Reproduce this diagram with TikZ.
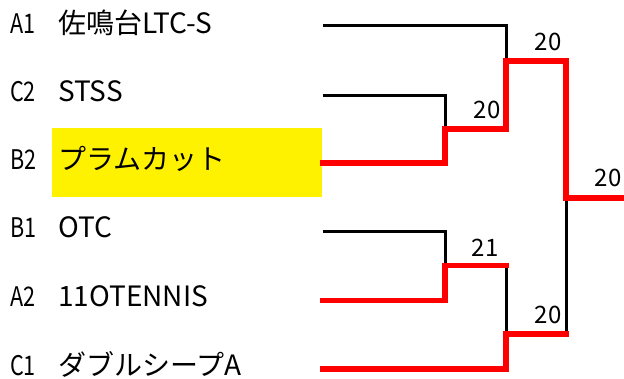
\documentclass[tikz,border=0pt]{standalone}
\usepackage{fontspec}
\setmainfont{Noto Sans CJK JP}
\newfontfamily\seedfont[FakeStretch=0.8]{Noto Sans CJK JP}
\newfontfamily\scorefont{Noto Sans CJK JP}
\begin{document}
\begin{tikzpicture}[x=1pt,y=-1pt,
  seedlbl/.style={anchor=base west,inner sep=0pt,font=\seedfont\fontsize{27}{29}\selectfont},
  team/.style={anchor=base west,inner sep=0pt,font=\fontsize{28}{30}\selectfont},
  score/.style={inner sep=0pt,font=\scorefont\fontsize{24}{26}\selectfont},
  lose/.style={draw=black,line width=3pt},
  win/.style={draw=red,line width=5.5pt,line join=miter,line cap=rect}]
\useasboundingbox (0,0) rectangle (624,378);
% highlight
\fill[yellow] (52,128) rectangle (322,197);
% seeds
\node[seedlbl] (s1) at (10,33) {A1};
\node[seedlbl] (s2) at (10,101) {C2};
\node[seedlbl] (s3) at (10,169) {B2};
\node[seedlbl] (s4) at (10,237) {B1};
\node[seedlbl] (s5) at (10,306) {A2};
\node[seedlbl] (s6) at (10,375) {C1};
% teams
\node[team] (t1) at (58,33) {佐鳴台LTC-S};
\node[team] (t2) at (58,101) {STSS};
\node[team] (t3) at (58,169) {プラムカット};
\node[team] (t4) at (58,237) {OTC};
\node[team] (t5) at (58,306) {11OTENNIS};
\node[team] (t6) at (58,375) {ダブルシープA};
% bracket coordinates
\coordinate (e1) at (323,25.5);
\coordinate (e2) at (323,95);
\coordinate (e3) at (323,163);
\coordinate (e4) at (323,231);
\coordinate (e5) at (323,300.5);
\coordinate (e6) at (323,369);
\coordinate (m1) at (445,129);
\coordinate (m2) at (445,265.5);
\coordinate (q1) at (506,61);
\coordinate (q2) at (506,334);
\coordinate (f) at (566,198);
\coordinate (fend) at (624,198);
% losing lines
\draw[lose] (e1) -| (q1);
\draw[lose] (e2) -| (m1);
\draw[lose] (e4) -| (m2);
\draw[lose] (m2 -| q1) -- (q2);
\draw[lose] (f) -- (q2 -| f);
% winning lines
\draw[win] (e3) -| (m1) -- (m1 -| q1) |- (q1) -- (q1 -| f) -- (f) -- (fend);
\draw[win] (e5) -| (m2) -- (m2 -| q1);
\draw[win] (e6) -| (q2) -- (q2 -| f);
% scores
\node[score] (r1) at (548,42) {20};
\node[score] (r2) at (487,110) {20};
\node[score] (r3) at (608,178) {20};
\node[score] (r4) at (485,248) {21};
\node[score] (r5) at (548,315) {20};
\end{tikzpicture}
\end{document}
